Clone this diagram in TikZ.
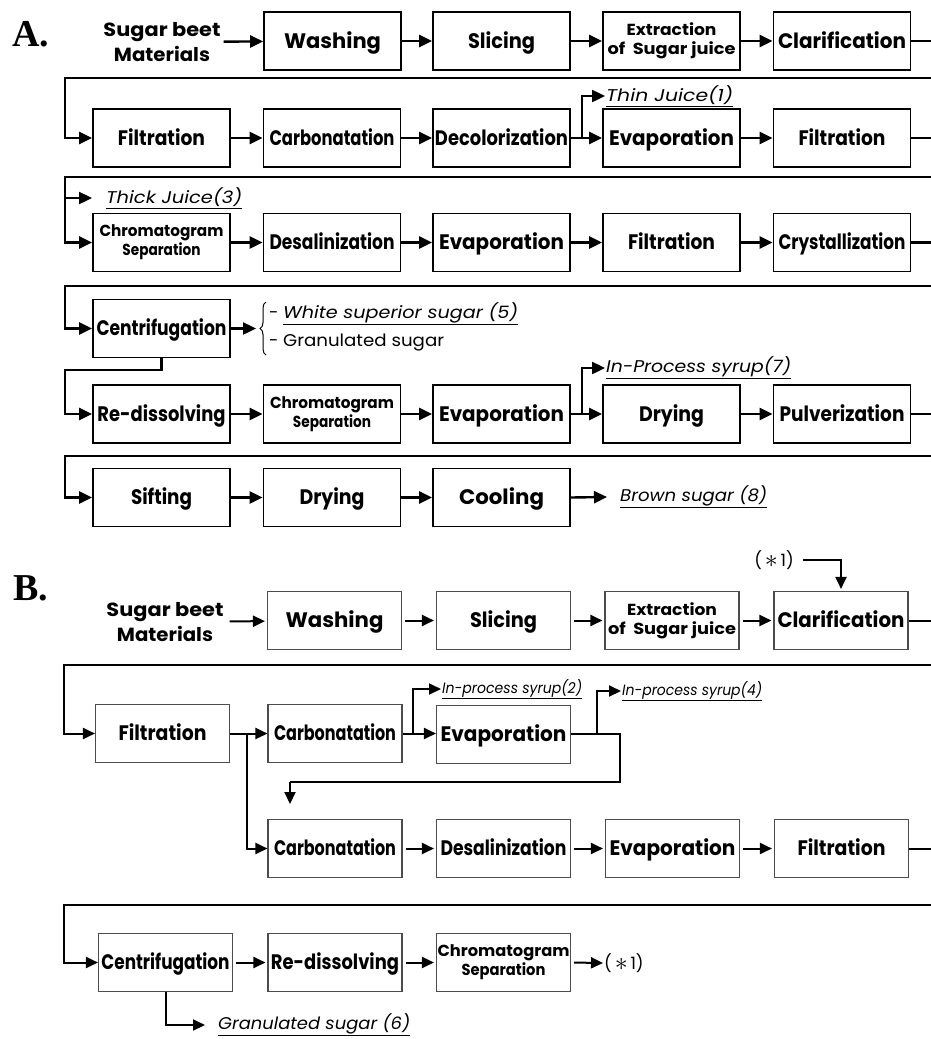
\documentclass[tikz,border=0pt]{standalone}
\usepackage{fontspec}
\setmainfont{Poppins}
\newfontfamily\serifb{Liberation Serif}
\usetikzlibrary{arrows.meta,decorations.pathreplacing}
\newcommand\fw[2]{\resizebox{#1pt}{\height}{#2}}
\newcommand\astr{\raisebox{-1pt}{\scalebox{1.5}{$\ast$}}}
\tikzset{
  boxA/.style={draw, line width=1.8pt, minimum width=137pt, minimum height=58pt, inner sep=0pt, align=center, text height=16pt, text depth=1.5pt, font=\bfseries\fontsize{21}{23}\selectfont},
  boxB/.style={draw=black!70, line width=1.1pt, minimum width=134pt, minimum height=58pt, inner sep=0pt, align=center, text height=16pt, text depth=1.5pt, font=\bfseries\fontsize{21}{23}\selectfont},
  conA/.style={line width=2.4pt},
  arrA/.style={conA, -{Triangle[length=13pt,width=12pt]}},
  conB/.style={line width=2pt},
  arrB/.style={conB, -{Triangle[length=12pt,width=11pt]}, shorten <=3pt, shorten >=2pt},
  lbl/.style={inner sep=1pt, anchor=west, font=\itshape\fontsize{17}{20}\selectfont},
  lblc/.style={inner sep=1pt, anchor=west, font=\itshape\fontsize{15}{18}\selectfont},
  plain/.style={inner sep=1pt, anchor=west, font=\fontsize{17}{20}\selectfont},
  two/.style={text height=, text depth=, font=\bfseries\fontsize{16}{19}\selectfont},
  src/.style={inner sep=3pt, align=center, font=\bfseries\fontsize{19}{25}\selectfont},
  sect/.style={inner sep=0pt, font=\serifb\bfseries\fontsize{38}{40}\selectfont},
}
\begin{document}
\begin{tikzpicture}[x=1pt,y=-1pt]
\useasboundingbox (0,0) rectangle (931,1039);
% ---------------- A ----------------
\node[sect] (secA) at (31,34) {A.};
\node[src] (a1) at (162,42) {\fw{117}{Sugar beet}\\\fw{96}{Materials}};
\node[boxA] (a2) at (332.5,41) {\fw{97}{Washing}};
\node[boxA] (a3) at (501.5,41) {\fw{67}{Slicing}};
\node[boxA, two] (a4) at (671.5,41) {\fw{90}{Extraction}\\\fw{128}{of\ \ Sugar juice}};
\node[boxA] (a5) at (842,41) {\fw{128}{Clarification}};
\draw[arrA] (a1) -- (a2);
\draw[arrA] (a2) -- (a3);
\draw[arrA] (a3) -- (a4);
\draw[arrA] (a4) -- (a5);

\node[boxA] (b1) at (161.5,138) {\fw{87}{Filtration}};
\node[boxA] (b2) at (332,138) {\fw{125}{Carbonatation}};
\node[boxA] (b3) at (501.5,138) {\fw{133}{Decolorization}};
\node[boxA] (b4) at (671.5,138) {\fw{125}{Evaporation}};
\node[boxA] (b5) at (842,138) {\fw{87}{Filtration}};
\draw[arrA] (a5.east) -- (933,41) -- (933,78) -- (65,78) |- (b1.west);
\draw[arrA] (b1) -- (b2);
\draw[arrA] (b2) -- (b3);
\draw[arrA] (b3) -- (b4);
\draw[arrA] (b4) -- (b5);
\node[lbl] (tj) at (605,96) {\underline{\fw{127}{Thin Juice(1)}}};
\draw[arrA] (582,138) |- (tj.west);

\node[boxA, two] (c1) at (161.5,242.5) {\fw{124}{Chromatogram}\\\fw{78}{Separation}};
\node[boxA] (c2) at (332,242.5) {\fw{125}{Desalinization}};
\node[boxA] (c3) at (501.5,242.5) {\fw{125}{Evaporation}};
\node[boxA] (c4) at (671.5,242.5) {\fw{87}{Filtration}};
\node[boxA] (c5) at (842,242.5) {\fw{127}{Crystallization}};
\draw[conA] (b5.east) -- (933,138) -- (933,177) -- (65,177) -- (65,198);
\draw[arrA] (65,198) |- (c1.west);
\node[lbl] (tk) at (105,198) {\underline{\fw{136}{Thick Juice(3)}}};
\draw[arrA] (65,198) -- ([xshift=-13pt]tk.west);
\draw[arrA] (c1) -- (c2);
\draw[arrA] (c2) -- (c3);
\draw[arrA] (c3) -- (c4);
\draw[arrA] (c4) -- (c5);

\node[boxA] (d1) at (161.5,328.5) {\fw{130}{Centrifugation}};
\draw[arrA] (c5.east) -- (933,242.5) -- (933,286) -- (65,286) |- (d1.west);
\coordinate (br) at (256,328.5);
\draw[arrA] (d1.east) -- (br);
\draw[line width=1pt, decorate, decoration={brace, amplitude=6pt}] (266,355) -- (266,302);
\node[plain] (p1) at (268,314) {- \underline{\fw{235}{\itshape White superior sugar (5)}}};
\node[plain] (p2) at (268,342) {- \fw{161}{Granulated sugar}};

\node[boxA] (e1) at (161.5,414) {\fw{128}{Re-dissolving}};
\node[boxA, two] (e2) at (332,414) {\fw{124}{Chromatogram}\\\fw{78}{Separation}};
\node[boxA] (e3) at (501.5,414) {\fw{125}{Evaporation}};
\node[boxA] (e4) at (671.5,414) {\fw{65}{Drying}};
\node[boxA] (e5) at (842,414) {\fw{125}{Pulverization}};
\draw[arrA] (d1.south) -- (161.5,370) -- (65,370) |- (e1.west);
\draw[arrA] (e1) -- (e2);
\draw[arrA] (e2) -- (e3);
\draw[arrA] (e3) -- (e4);
\draw[arrA] (e4) -- (e5);
\node[lbl] (ip7) at (605,368) {\underline{\fw{185}{In-Process syrup(7)}}};
\draw[arrA] (582,414) |- (ip7.west);

\node[boxA] (f1) at (161.5,497.5) {\fw{61}{Sifting}};
\node[boxA] (f2) at (332,497.5) {\fw{65}{Drying}};
\node[boxA] (f3) at (501.5,497.5) {\fw{85}{Cooling}};
\draw[arrA] (e5.east) -- (933,414) -- (933,456) -- (65,456) |- (f1.west);
\draw[arrA] (f1) -- (f2);
\draw[arrA] (f2) -- (f3);
\node[lbl] (bs) at (619,497) {\underline{\fw{147}{Brown sugar (8)}}};
\draw[arrA] (f3.east) -- ([xshift=-12pt]bs.west);

% ---------------- B ----------------
\node[sect] (secB) at (31,588) {B.};
\node[plain, anchor=center] (s1) at (774,560) {(\,\astr\,1)};
\node[src] (ba1) at (165,622) {\fw{117}{Sugar beet}\\\fw{96}{Materials}};
\node[boxB] (ba2) at (334.5,620.5) {\fw{98}{Washing}};
\node[boxB] (ba3) at (503.5,620.5) {\fw{67}{Slicing}};
\node[boxB, two] (ba4) at (672,620.5) {\fw{90}{Extraction}\\\fw{128}{of\ \ Sugar juice}};
\node[boxB] (ba5) at (841,620.5) {\fw{127}{Clarification}};
\draw[arrB, shorten <=0pt] ([xshift=8pt]s1.east) -| (ba5.north);
\draw[arrB] (ba1) -- (ba2);
\draw[arrB] (ba2) -- (ba3);
\draw[arrB] (ba3) -- (ba4);
\draw[arrB] (ba4) -- (ba5);

\node[boxB] (bb1) at (162.5,733.5) {\fw{88}{Filtration}};
\node[boxB] (bb2) at (335,733.5) {\fw{122}{Carbonatation}};
\node[boxB] (bb3) at (503.5,734.5) {\fw{126}{Evaporation}};
\draw[arrB, shorten <=0pt, shorten >=0pt] (ba5.east) -- (933,620.5) -- (933,665) -- (64,665) |- (bb1.west);
\draw[arrB, shorten <=0pt, shorten >=0pt] (bb1.east) -- (bb2.west);
\draw[arrB, shorten <=0pt, shorten >=0pt] (bb2.east) -- (bb3.west |- bb2.east);
\node[lblc] (ip2) at (441,689) {\underline{\fw{140}{In-process syrup(2)}}};
\draw[arrB, shorten <=0pt, shorten >=0pt] (413,733.5) |- (ip2.west);
\node[lblc] (ip4) at (621,691) {\underline{\fw{140}{In-process syrup(4)}}};
\draw[conB] (bb3.east |- bb2.east) -- (620,733.5) -- (620,782) -- (290,782);
\draw[arrB, shorten <=0pt, shorten >=0pt] (290,782) -- (290,804);
\draw[arrB, shorten <=0pt, shorten >=0pt] (597,733.5) |- (ip4.west);

\node[boxB] (bc1) at (335,848.5) {\fw{122}{Carbonatation}};
\node[boxB] (bc2) at (503.5,848.5) {\fw{126}{Desalinization}};
\node[boxB] (bc3) at (672.5,848.5) {\fw{126}{Evaporation}};
\node[boxB] (bc4) at (841.5,848.5) {\fw{88}{Filtration}};
\draw[arrB, shorten <=0pt, shorten >=0pt] (247,733.5) |- (bc1.west);
\draw[arrB] (bc1) -- (bc2);
\draw[arrB] (bc2) -- (bc3);
\draw[arrB] (bc3) -- (bc4);

\node[boxB] (bd1) at (165.5,962.5) {\fw{128}{Centrifugation}};
\node[boxB] (bd2) at (335,962.5) {\fw{128}{Re-dissolving}};
\node[boxB, two] (bd3) at (503.5,962.5) {\fw{132}{Chromatogram}\\\fw{84}{Separation}};
\draw[arrB, shorten <=0pt, shorten >=0pt] (bc4.east) -- (933,848.5) -- (933,905) -- (64,905) |- (bd1.west);
\draw[arrB] (bd1) -- (bd2);
\draw[arrB] (bd2) -- (bd3);
\node[plain] (s2) at (603,963) {(\,\astr\,1)};
\draw[arrB, shorten >=0pt] (bd3.east) -- (s2.west);
\node[lbl] (g6) at (217,1025) {\underline{\fw{192}{Granulated sugar (6)}}};
\draw[arrB, shorten <=0pt] (bd1.south) |- ([xshift=-10pt]g6.west);
\end{tikzpicture}
\end{document}
